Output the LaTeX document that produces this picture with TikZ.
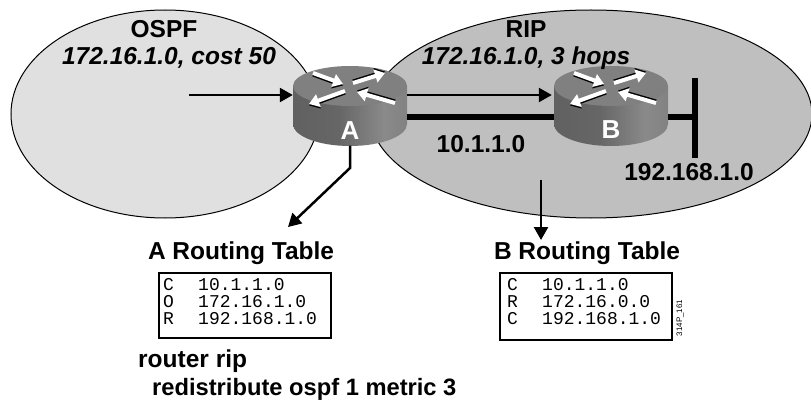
\documentclass[tikz,border=0pt]{standalone}
\usepackage{fontspec}
\setmainfont{Liberation Sans}
\setmonofont{Liberation Mono}
\usetikzlibrary{arrows.meta,shapes.geometric,calc}
\pgfdeclarehorizontalshading{routerside}{100bp}{
 color(0bp)=(black!42); color(8bp)=(black!46); color(25bp)=(black!62); color(45bp)=(black!60);
 color(65bp)=(black!46); color(85bp)=(black!52); color(100bp)=(black!62)}
\tikzset{
 x=1pt,y=-1pt,
 lbl/.style={font=\fontsize{24.5}{26}\selectfont\bfseries,inner sep=0pt,text=black},
 ilbl/.style={font=\fontsize{24.5}{26}\selectfont\bfseries\itshape,inner sep=0pt,text=black},
 tbl/.style={draw=black,line width=1.8pt,fill=white,minimum width=172pt,inner sep=0pt},
 rowt/.style={font=\fontsize{18}{17}\selectfont\ttfamily,inner sep=0pt,anchor=base west,text=black},
 link/.style={line width=6pt,draw=black},
 conn/.style={line width=2.5pt,draw=black,-{Triangle[length=13pt,width=14pt]}},
 area/.style={ellipse,draw=black,line width=1pt,inner sep=0pt},
 rbox/.style={minimum width=114pt,minimum height=79pt,inner sep=0pt},
 rletter/.style={font=\fontsize{26}{28}\selectfont\bfseries,text=white,inner sep=0pt},
}
\newcommand{\rarrow}[5]{%
 \draw[black,line width=4pt,-{Triangle[length=10pt,width=13pt]}] (#1,#2+#5) -- (#3,#4+#5);
 \draw[white,line width=4pt,-{Triangle[length=10pt,width=13pt]}] (#1,#2) -- (#3,#4);}
\newcommand{\routerart}[2]{%
 \begin{scope}[shift={(#1,#2)}]
  \shade[shading=routerside] (-57,0) -- (-57,38) arc[start angle=180,end angle=360,x radius=57pt,y radius=22pt] -- (57,0) -- cycle;
  \fill[black!50] (0,0) ellipse[x radius=57pt,y radius=20pt];
  \rarrow{-37}{-13}{-7}{-2}{1.5}
  \rarrow{3}{-3}{35}{-13}{-1.5}
  \rarrow{-5}{5}{-41}{18}{1.5}
  \rarrow{45}{17}{7}{6}{-1.5}
 \end{scope}}
\begin{document}
\begin{tikzpicture}
\useasboundingbox (0,0) rectangle (811,401);
\clip (0,0) rectangle (811,401);
\fill[white] (0,0) rectangle (811,401);
\node[area,fill=black!12,minimum width=308pt,minimum height=208pt] (ospf) at (165,114) {};
\node[area,fill=black!25,minimum width=442pt,minimum height=208pt] (rip) at (591,114) {};
% routers
\routerart{350}{86}
\routerart{611}{86}
\node[rbox] (A) at (350,106) {};
\node[rbox] (B) at (611,106) {};
\node[rletter] (la) at (350,131) {A};
\node[rletter] (lb) at (611,130) {B};
% links
\coordinate (bar1) at (695,78);
\coordinate (bar2) at (695,158);
\coordinate (barm) at (695,117);
\draw[link] (bar1) -- (bar2);
\draw[link] (A.east |- barm) -- (B.west |- barm);
\draw[link] (B.east |- barm) -- (barm);
% arrows
\coordinate (src) at (189,95);
\draw[conn] (src) -- (A.west |- src);
\coordinate (ay) at (0,95);
\draw[conn] (A.east |- ay) -- ($(B.west |- ay)+(-2,0)$);
\coordinate (bendA) at (350,168);
\coordinate (endA) at (288,227);
\draw[conn,line join=miter] (A.south) -- (bendA) -- (endA);
\coordinate (ripb) at (541,180);
\coordinate (ripe) at (541,240);
\draw[conn] (ripb) -- (ripe);
% labels
\node[lbl] (t1) at (164,29) {OSPF};
\node[ilbl] (t2) at (169,58) {172.16.1.0, cost 50};
\node[lbl] (t3) at (526,29) {RIP};
\node[ilbl] (t4) at (526,58) {172.16.1.0, 3 hops};
\node[lbl] (t5) at (481,144) {10.1.1.0};
\node[lbl] (t6) at (689,172) {192.168.1.0};
\node[lbl] (t7) at (241,253) {A Routing Table};
\node[lbl] (t8) at (587,253) {B Routing Table};
% tables
\node[tbl,minimum height=65pt] (ta) at (245,305.5) {};
\node[tbl,minimum height=67pt] (tb) at (586,306.5) {};
\node[rowt] (a1) at (163,290) {C};  \node[rowt] (a1b) at (198,290) {10.1.1.0};
\node[rowt] (a2) at (163,307) {O};  \node[rowt] (a2b) at (198,307) {172.16.1.0};
\node[rowt] (a3) at (163,324.5) {R};  \node[rowt] (a3b) at (198,324.5) {192.168.1.0};
\node[rowt] (b1) at (507,290) {C};  \node[rowt] (b1b) at (542,290) {10.1.1.0};
\node[rowt] (b2) at (507,307) {R};  \node[rowt] (b2b) at (542,307) {172.16.0.0};
\node[rowt] (b3) at (507,324.5) {C};  \node[rowt] (b3b) at (542,324.5) {192.168.1.0};
\node[font=\fontsize{8}{9}\selectfont,rotate=90,inner sep=0pt] (code) at (680,318) {314P\_161};
\node[lbl,anchor=west] (c1) at (138,361) {router rip};
\node[lbl,font=\fontsize{23.7}{26}\selectfont\bfseries,anchor=west] (c2) at (152,389) {redistribute ospf 1 metric 3};
\end{tikzpicture}
\end{document}
